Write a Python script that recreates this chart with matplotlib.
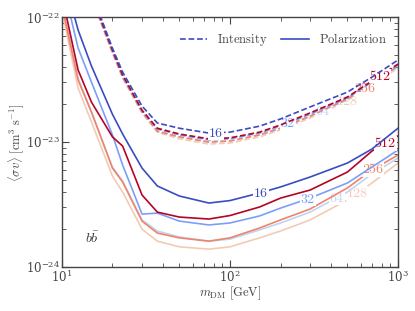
import numpy as np
import matplotlib
matplotlib.use("Agg")
import matplotlib.pyplot as plt
from matplotlib.ticker import LogLocator, NullFormatter

plt.rcParams['mathtext.fontset'] = 'cm'
plt.rcParams['font.family'] = ['DejaVu Serif']

# ---------------- data ----------------
mass = [10, 12.5, 15, 20, 23, 30, 37, 50, 75, 100, 150, 200, 300, 500, 700, 1000]
nside = [16, 32, 64, 128, 256, 512]

pol_16 = [2.38e-22, 7.87e-23, 4.06e-23, 1.67e-23, 1.16e-23, 6.19e-24, 4.45e-24, 3.70e-24,
          3.25e-24, 3.40e-24, 3.91e-24, 4.37e-24, 5.25e-24, 6.79e-24, 8.79e-24, 1.29e-23]
pol_32 = [1.98e-22, 5.65e-23, 3.02e-23, 1.14e-23, 6.55e-24, 2.65e-24, 2.70e-24, 2.33e-24,
          2.17e-24, 2.25e-24, 2.56e-24, 2.96e-24, 3.56e-24, 4.70e-24, 6.31e-24, 8.63e-24]
pol_64 = [1.29e-22, 3.25e-23, 1.74e-23, 6.31e-24, 4.88e-24, 2.38e-24, 1.94e-24, 1.74e-24,
          1.61e-24, 1.67e-24, 1.98e-24, 2.25e-24, 2.75e-24, 3.98e-24, 5.55e-24, 7.45e-24]
pol_128 = [1.14e-22, 2.70e-23, 1.45e-23, 5.35e-24, 3.98e-24, 2.01e-24, 1.61e-24, 1.45e-24,
           1.39e-24, 1.45e-24, 1.71e-24, 1.94e-24, 2.38e-24, 3.44e-24, 4.70e-24, 6.79e-24]
pol_256 = [1.25e-22, 3.13e-23, 1.74e-23, 6.19e-24, 4.79e-24, 2.33e-24, 1.87e-24, 1.71e-24,
           1.61e-24, 1.71e-24, 2.05e-24, 2.38e-24, 2.91e-24, 4.29e-24, 5.97e-24, 7.87e-24]
pol_512 = [1.50e-22, 3.77e-23, 2.09e-23, 1.10e-23, 9.29e-24, 3.77e-24, 2.75e-24, 2.51e-24,
           2.42e-24, 2.58e-24, 3.02e-24, 3.56e-24, 4.13e-24, 5.75e-24, 8.47e-24, 1.12e-23]

int_16 = [5.97e-22, 2.86e-22, 1.58e-22, 5.65e-23, 3.63e-23, 1.94e-23, 1.42e-23, 1.29e-23,
          1.18e-23, 1.20e-23, 1.34e-23, 1.53e-23, 1.91e-23, 2.51e-23, 3.31e-23, 4.53e-23]
int_32 = [5.75e-22, 2.70e-22, 1.47e-22, 5.35e-23, 3.37e-23, 1.77e-23, 1.27e-23, 1.14e-23,
          1.04e-23, 1.06e-23, 1.18e-23, 1.34e-23, 1.67e-23, 2.25e-23, 3.02e-23, 4.13e-23]
int_64 = [5.65e-22, 2.65e-22, 1.45e-22, 5.25e-23, 3.31e-23, 1.74e-23, 1.22e-23, 1.10e-23,
          1.00e-23, 1.02e-23, 1.14e-23, 1.29e-23, 1.61e-23, 2.17e-23, 2.91e-23, 3.98e-23]
int_128 = [5.55e-22, 2.61e-22, 1.42e-22, 5.15e-23, 3.25e-23, 1.71e-23, 1.20e-23, 1.06e-23,
           9.64e-24, 9.82e-24, 1.10e-23, 1.25e-23, 1.56e-23, 2.13e-23, 2.86e-23, 3.91e-23]
int_256 = [5.65e-22, 2.65e-22, 1.45e-22, 5.25e-23, 3.31e-23, 1.74e-23, 1.22e-23, 1.10e-23,
           1.00e-23, 1.02e-23, 1.14e-23, 1.29e-23, 1.61e-23, 2.21e-23, 2.96e-23, 4.06e-23]
int_512 = [5.75e-22, 2.75e-22, 1.50e-22, 5.45e-23, 3.44e-23, 1.80e-23, 1.29e-23, 1.16e-23,
           1.06e-23, 1.08e-23, 1.20e-23, 1.37e-23, 1.71e-23, 2.29e-23, 3.08e-23, 4.21e-23]

pol = [pol_16, pol_32, pol_64, pol_128, pol_256, pol_512]
inten = [int_16, int_32, int_64, int_128, int_256, int_512]

# masses where inline labels sit
pol_label_mass = [153, 291, 434, 570, 710, 840]
int_label_mass = [82.6, 221, 358, 497, 637, 781]

x_ticks = [10, 100, 1000]
y_ticks = [1e-24, 1e-23, 1e-22]

# ---------------- plot ----------------
fig = plt.figure(figsize=(4.15, 3.11), dpi=100)
ax = fig.add_axes([0.149, 0.1415, 0.81, 0.8035])

cmap = plt.cm.coolwarm
colors = [cmap(v) for v in np.linspace(0, 1, len(nside))]
lw = 1.2
order_z = [2.6, 2.5, 2.3, 2.2, 2.4, 2.55]

lm = np.log10(mass)
for i, n in enumerate(nside):
    c = colors[i]
    ax.plot(mass, inten[i], ls='--', color=c, lw=lw, zorder=order_z[i], dashes=(3.5, 1.6))
    ax.plot(mass, pol[i], ls='-', color=c, lw=lw, zorder=order_z[i])
    for vals, lmass in ((inten[i], int_label_mass[i]), (pol[i], pol_label_mass[i])):
        yv = 10 ** np.interp(np.log10(lmass), lm, np.log10(vals))
        ax.text(lmass, yv, f'${n}$', color=c, fontsize=10, ha='center', va='center',
                zorder=order_z[i] + 0.02,
                bbox=dict(facecolor='white', edgecolor='none', pad=0.2))

# legend
h1, = ax.plot([], [], ls='--', color=colors[0], lw=lw, dashes=(3.5, 1.6))
h2, = ax.plot([], [], ls='-', color=colors[0], lw=lw)
leg = ax.legend([h1, h2], [r'$\mathrm{Intensity}$', r'$\mathrm{Polarization}$'],
                loc='upper right', ncol=2, frameon=False, fontsize=9,
                handlelength=2.2, columnspacing=1.1, handletextpad=0.8,
                bbox_to_anchor=(1.0, 0.985))
for t in leg.get_texts():
    t.set_color('#444444')

ax.text(15.1, 1.7e-24, r'$b\bar{b}$', fontsize=10, color='#333333', ha='center', va='center')

ax.set_xscale('log')
ax.set_yscale('log')
ax.set_xlim(10, 1000)
ax.set_ylim(1e-24, 1e-22)
ax.set_xticks(x_ticks)
ax.set_yticks(y_ticks)

ax.set_xlabel(r'$m_{\mathrm{DM}}\ [\mathrm{GeV}]$', fontsize=9, color='#444444')
ax.set_ylabel(r'$\langle \sigma v \rangle\ [\mathrm{cm}^3\ \mathrm{s}^{-1}]$', fontsize=9,
              color='#444444')
ax.xaxis.set_label_coords(0.5, -0.068)
ax.yaxis.set_label_coords(-0.105, 0.5)

ax.xaxis.set_minor_locator(LogLocator(base=10, subs=np.arange(2, 10)))
ax.yaxis.set_minor_locator(LogLocator(base=10, subs=np.arange(2, 10)))
ax.xaxis.set_minor_formatter(NullFormatter())
ax.yaxis.set_minor_formatter(NullFormatter())
ax.tick_params(which='both', direction='in', top=True, right=True, colors='#444444',
               labelsize=8.5, labelcolor='#444444')
ax.tick_params(which='major', length=5, width=0.8, pad=1.5)
ax.tick_params(which='minor', length=3, width=0.6)
for s in ax.spines.values():
    s.set_color('#444444')
    s.set_linewidth(1.0)

fig.savefig('out.png', dpi=100)
